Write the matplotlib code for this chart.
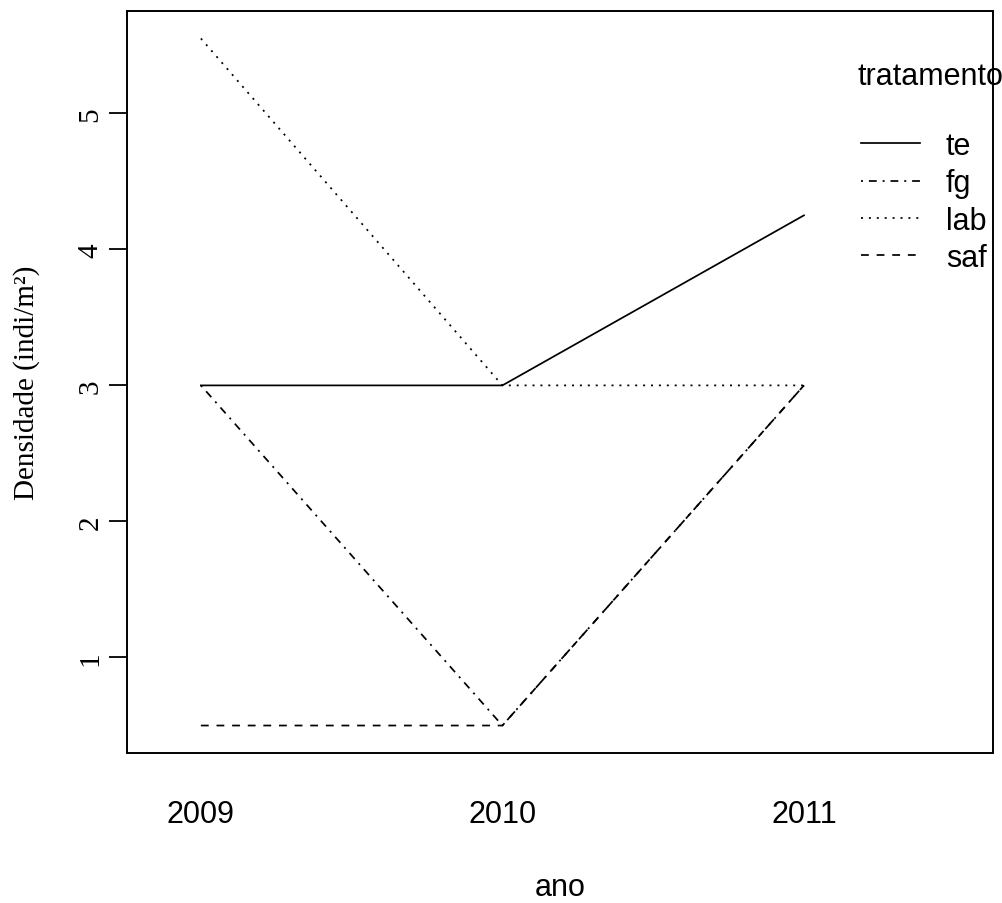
import matplotlib as mpl
mpl.use('Agg')
import matplotlib.pyplot as plt

# data
anos = ['2009', '2010', '2011']
tratamentos = ['te', 'fg', 'lab', 'saf']
te = [3.0, 3.0, 4.25]
fg = [3.0, 0.5, 3.0]
lab = [5.55, 3.0, 3.0]
saf = [0.5, 0.5, 3.0]

series = [te, fg, lab, saf]
# R style line types: solid, dotdash, dotted, dashed
estilos = ['-', (0, (1.15, 3.4, 4.5, 3.4)), (0, (1.15, 3.4)), (0, (4.5, 4.5))]

W, H = 1003, 904
fig = plt.figure(figsize=(W / 100, H / 100), dpi=100)
ax = fig.add_axes([127 / W, 1 - 754 / H, (993 - 127) / W, (754 - 12) / H])

pos = list(range(1, len(anos) + 1))
for nome, vals, ls in zip(tratamentos, series, estilos):
    ax.plot(pos, vals, color='black', linestyle=ls, linewidth=1.25, label=nome)

ax.set_xlim(0.755, 3.627)
ax.set_ylim(0.298, 5.752)

ax.set_xticks(pos)
ax.set_xticklabels(anos, family='Liberation Sans', fontsize=22)
ax.tick_params(axis='x', length=0, pad=33)

ax.set_yticks([1, 2, 3, 4, 5])
ax.set_yticklabels(['1', '2', '3', '4', '5'], family='Liberation Serif',
                   fontsize=21, rotation=90, va='center')
ax.tick_params(axis='y', length=13, width=1.3, pad=4)

for s in ax.spines.values():
    s.set_linewidth(1.4)

ax.set_xlabel('ano', family='Liberation Sans', fontsize=22, labelpad=31)
ax.set_ylabel('Densidade (indi/m²)', family='Liberation Serif', fontsize=21,
              labelpad=27)

# legend title drawn on its own so its gap to the entries can match
fig.text(858 / W, 1 - 77 / H, 'tratamento', family='Liberation Sans',
         fontsize=22, ha='left', va='center')
leg = ax.legend(frameon=False, loc='upper left',
                bbox_to_anchor=(861 / W, 1 - 132 / H),
                bbox_transform=fig.transFigure,
                prop={'family': 'Liberation Sans', 'size': 22},
                handlelength=1.93, handletextpad=0.85, labelspacing=0.24,
                borderpad=0, borderaxespad=0)

fig.savefig('out.png', dpi=100)
